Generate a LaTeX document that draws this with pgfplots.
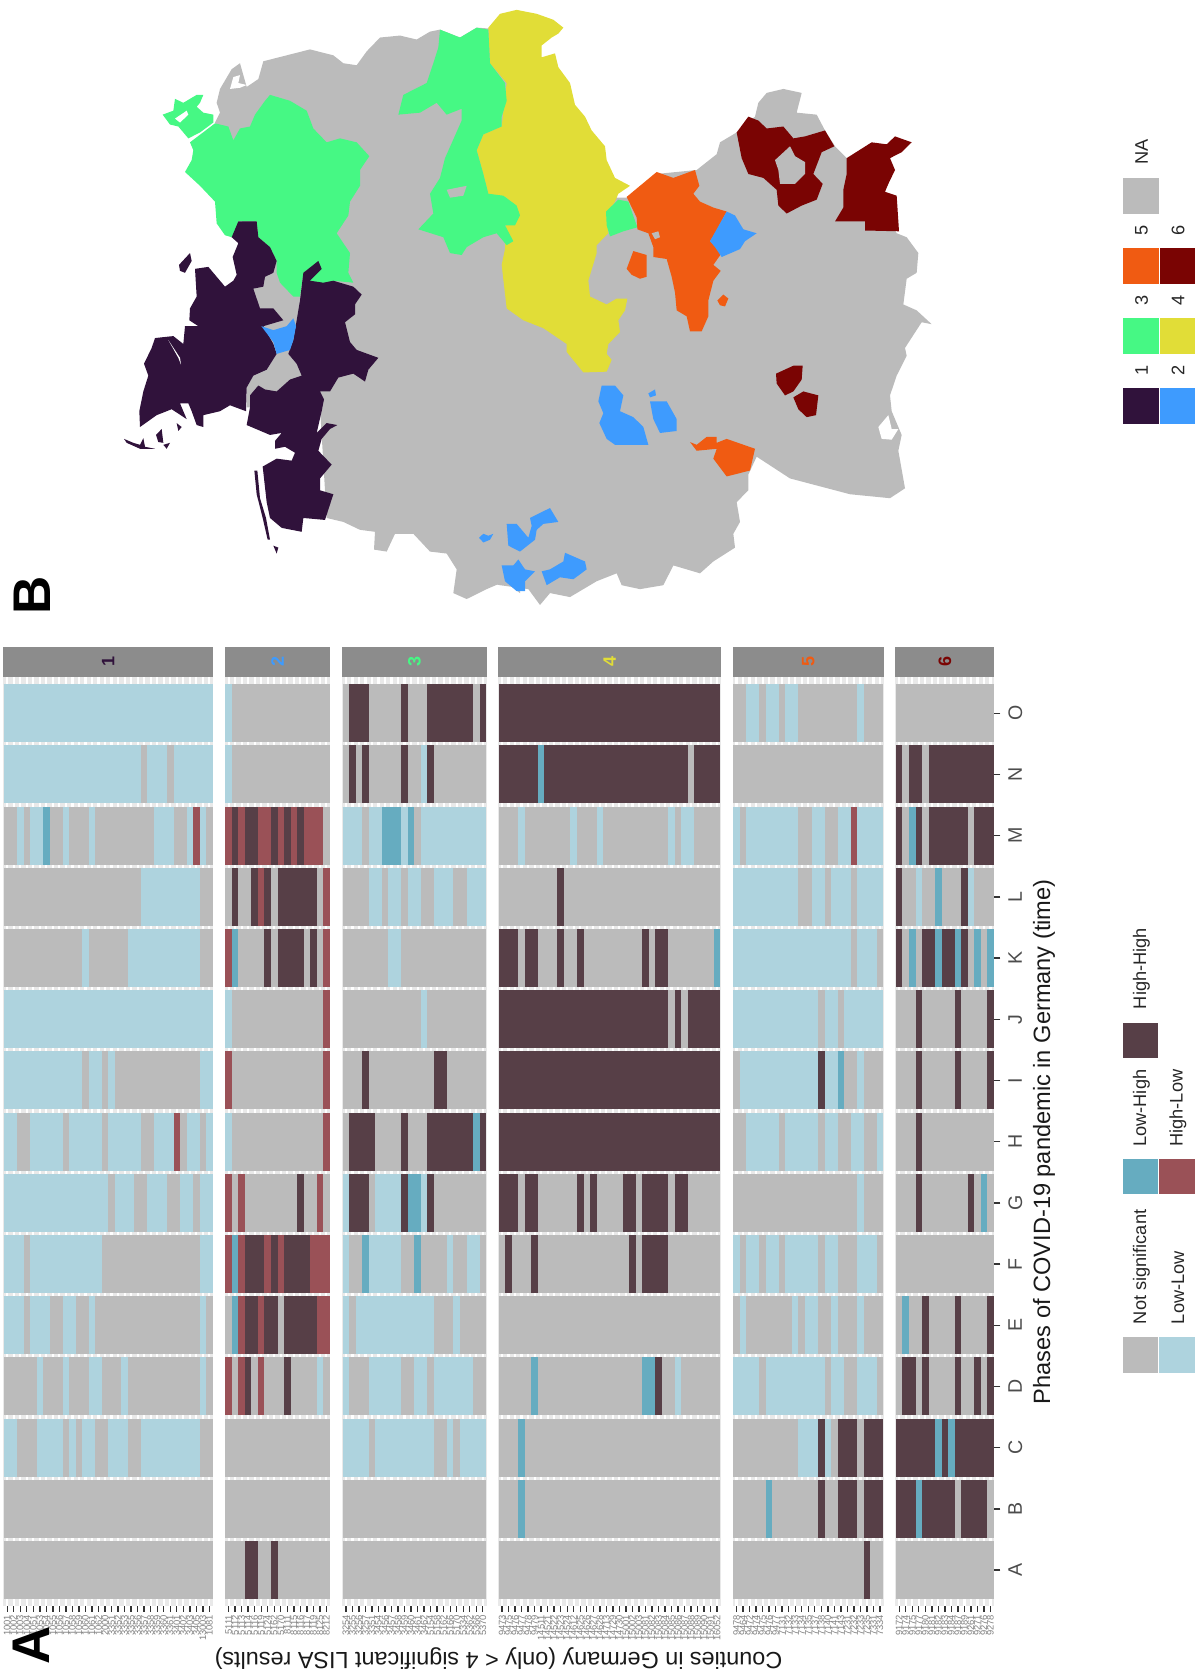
\documentclass[border=0pt]{standalone}
\usepackage{fontspec}
\setmainfont{Liberation Sans}
\usepackage{pgfplots}
\pgfplotsset{compat=1.18}
\definecolor{cNS}{HTML}{BBBBBB}
\definecolor{cLL}{HTML}{AED3DE}
\definecolor{cLH}{HTML}{66ACC0}
\definecolor{cHL}{HTML}{9A5157}
\definecolor{cHH}{HTML}{573F47}
\definecolor{cOne}{HTML}{30123B}
\definecolor{cTwo}{HTML}{3E9BFE}
\definecolor{cThree}{HTML}{46F884}
\definecolor{cFour}{HTML}{E1DD37}
\definecolor{cFive}{HTML}{F05B12}
\definecolor{cSix}{HTML}{7A0403}
\definecolor{cStrip}{HTML}{8C8C8C}
\definecolor{cBand}{HTML}{E9E9E9}
\definecolor{cTick}{HTML}{333333}
\definecolor{cTxt}{HTML}{808080}
\pgfplotsset{
  cellrow/.style={draw=none,mark=none,forget plot,
    error bars/x dir=plus,error bars/x explicit,error bars/error mark=none,
    error bars/error bar style={draw=#1,line width=29pt,solid}},
  panel/.style={anchor=south west,scale only axis,height=464.65pt,ymin=0.413,ymax=15.598,
    ytick=\empty,clip=false,axis line style={draw=none},
    axis background/.style={fill=cBand},
    xmajorgrids,grid style={white,line width=1.1pt},
    xtick pos=lower,tick align=outside,major tick length=3pt,
    tick style={draw=cTick,line width=0.7pt},
    x tick label style={rotate=90,anchor=east,font=\fontsize{4.7}{5}\selectfont,text=cTxt,inner sep=1.2pt}},
  /pgfplots/table/tab/.style={/pgfplots/table/row sep=\\,/pgfplots/table/x=s,/pgfplots/table/y=p,/pgfplots/table/x error=w},
  mapax/.style={anchor=south west,scale only axis,hide axis,clip=false,y dir=reverse,ymin=0,ymax=1568,height=310pt}
}
\newcommand\strip[2]{%
  \fill[cStrip] (rel axis cs:0,1) rectangle ([yshift=14.7pt]rel axis cs:1,1);
  \node[rotate=90,text=#2,font=\bfseries\fontsize{9}{9}\selectfont,inner sep=0pt] at ([yshift=7.35pt]rel axis cs:0.5,1) {#1};}
\newcommand\lkey[3]{\fill[#3] ({#1*0.5pt},{(1673-#2)*0.5pt}) rectangle ({(#1+35.6)*0.5pt},{(1673-#2-35.6)*0.5pt});}
\newcommand\ltxt[3]{\node[rotate=90,anchor=west,inner sep=0pt,font=\fontsize{9.1}{9.1}\selectfont,text=black!85] at ({#1*0.5pt},{(1673-#2)*0.5pt}) {#3};}
\begin{document}
\begin{tikzpicture}
\path[use as bounding box] (0,0) rectangle (597.5pt,836.5pt);

%% ---------- heat map panels ----------
\begin{axis}[panel,at={(1.65pt,33.5pt)},width=105pt,xmin=-0.1,xmax=32.1,
  xtick={0.5,1.5,...,31.5},
  xticklabels={1001,1002,1003,1004,1051,1053,1054,1055,1056,1057,1058,1059,1060,1061,1062,2000,3351,3352,3353,3355,3356,3357,3358,3359,3360,3361,3401,3402,3403,3405,13003,1081}]
\addplot[cellrow=cNS] table[tab] {p s w\\1 0 32\\2 0 32\\3 0 32\\4 0 32\\5 0 32\\6 0 32\\7 0 32\\8 0 32\\9 0 32\\10 0 32\\11 0 32\\12 0 32\\13 0 32\\14 0 32\\15 0 32\\};
\addplot[cellrow=cLL] table[tab] {p s w\\15 0 32\\14 0 21\\14 22 3\\14 26 6\\13 2 1\\13 4 2\\13 9 1\\13 13 1\\13 23 3\\13 28 1\\13 30 1\\12 21 9\\11 12 1\\11 19 11\\10 0 32\\9 0 12\\9 13 2\\9 16 1\\9 30 2\\8 0 2\\8 4 5\\8 10 5\\8 16 5\\8 23 3\\8 28 2\\8 31 1\\7 0 16\\7 17 3\\7 22 3\\7 27 2\\7 30 2\\6 0 3\\6 4 11\\6 30 2\\5 0 3\\5 4 3\\5 9 2\\5 13 1\\5 30 1\\4 5 1\\4 9 1\\4 13 2\\4 18 1\\4 30 1\\3 0 2\\3 5 4\\3 10 1\\3 12 2\\3 16 3\\3 21 9\\};
\addplot[cellrow=cLH] table[tab] {p s w\\13 6 1\\};
\addplot[cellrow=cHL] table[tab] {p s w\\13 29 1\\8 26 1\\};
\strip{1}{cOne}
\end{axis}

\begin{axis}[panel,at={(112.35pt,33.5pt)},width=52.8pt,xmin=-0.1,xmax=16.1,
  xtick={0.5,1.5,...,15.5},
  xticklabels={5111,5112,5113,5114,5116,5119,5124,5162,5170,8111,8115,8116,8117,8119,8125,8212}]
\addplot[cellrow=cNS] table[tab] {p s w\\1 0 16\\2 0 16\\3 0 16\\4 0 16\\5 0 16\\6 0 16\\7 0 16\\8 0 16\\9 0 16\\10 0 16\\11 0 16\\12 0 16\\13 0 16\\14 0 16\\15 0 16\\};
\addplot[cellrow=cLL] table[tab] {p s w\\15 0 1\\14 0 1\\10 0 1\\8 0 1\\4 14 1\\};
\addplot[cellrow=cLH] table[tab] {p s w\\11 1 1\\6 1 1\\5 1 1\\};
\addplot[cellrow=cHL] table[tab] {p s w\\13 0 1\\13 2 1\\13 5 2\\13 8 1\\13 10 1\\13 12 3\\12 5 1\\12 15 1\\11 0 1\\11 15 1\\10 15 1\\9 0 1\\9 15 1\\8 15 1\\7 0 1\\7 2 1\\7 14 1\\6 0 1\\6 2 1\\6 6 1\\6 8 1\\6 13 3\\5 2 1\\5 5 1\\5 14 2\\4 0 1\\4 2 1\\4 5 1\\};
\addplot[cellrow=cHH] table[tab] {p s w\\13 1 1\\13 3 2\\13 7 1\\13 9 1\\13 11 1\\12 1 1\\12 4 1\\12 6 1\\12 8 6\\11 6 1\\11 8 4\\11 13 1\\7 11 1\\6 3 3\\6 7 1\\6 9 4\\5 3 2\\5 6 2\\5 9 5\\4 3 1\\4 9 1\\1 3 2\\1 7 1\\};
\strip{2}{cTwo}
\end{axis}

\begin{axis}[panel,at={(171pt,33.5pt)},width=72.35pt,xmin=-0.1,xmax=22.1,
  xtick={0.5,1.5,...,21.5},
  xticklabels={3254,3255,3256,3257,3351,3454,3456,3457,3458,3459,3460,3461,3462,5154,5158,5162,5166,5170,5334,5362,5366,5370}]
\addplot[cellrow=cNS] table[tab] {p s w\\1 0 22\\2 0 22\\3 0 22\\4 0 22\\5 0 22\\6 0 22\\7 0 22\\8 0 22\\9 0 22\\10 0 22\\11 0 22\\12 0 22\\13 0 22\\14 0 22\\15 0 22\\};
\addplot[cellrow=cLL] table[tab] {p s w\\14 12 1\\13 0 3\\13 4 2\\13 9 1\\13 12 10\\12 4 2\\12 7 2\\12 10 2\\12 14 3\\12 19 3\\11 7 2\\10 12 1\\7 0 1\\7 5 4\\7 12 1\\6 0 1\\6 4 5\\6 16 1\\6 19 2\\5 0 1\\5 2 12\\5 17 1\\4 0 1\\4 4 5\\4 11 2\\4 14 6\\3 0 4\\3 5 9\\3 16 1\\3 18 4\\};
\addplot[cellrow=cLH] table[tab] {p s w\\13 6 3\\13 10 1\\8 20 1\\7 10 2\\6 3 1\\6 11 1\\};
\addplot[cellrow=cHH] table[tab] {p s w\\15 1 3\\15 9 1\\15 13 7\\15 21 1\\14 1 1\\14 3 1\\14 9 1\\14 13 1\\9 3 1\\9 14 2\\8 1 4\\8 9 1\\8 13 7\\8 21 1\\7 1 3\\7 9 1\\7 13 1\\};
\strip{3}{cThree}
\end{axis}

\begin{axis}[panel,at={(249.05pt,33.5pt)},width=111.5pt,xmin=-0.1,xmax=34.1,
  xtick={0.5,1.5,...,33.5},
  xticklabels={9473,9475,9476,9477,9478,9479,14511,14521,14522,14523,14524,14612,14625,14626,14627,14628,14713,14729,14730,15001,15002,15003,15081,15082,15083,15084,15085,15086,15087,15088,15089,15090,15091,16052}]
\addplot[cellrow=cNS] table[tab] {p s w\\1 0 34\\2 0 34\\3 0 34\\4 0 34\\5 0 34\\6 0 34\\7 0 34\\8 0 34\\9 0 34\\10 0 34\\11 0 34\\12 0 34\\13 0 34\\14 0 34\\15 0 34\\};
\addplot[cellrow=cLL] table[tab] {p s w\\13 3 1\\13 11 1\\13 15 1\\13 26 1\\13 28 2\\4 27 1\\};
\addplot[cellrow=cLH] table[tab] {p s w\\14 6 1\\11 33 1\\4 5 1\\4 22 2\\3 3 1\\2 3 1\\};
\addplot[cellrow=cHH] table[tab] {p s w\\15 0 34\\14 0 6\\14 7 22\\14 30 4\\12 9 1\\11 0 3\\11 4 2\\11 9 1\\11 12 1\\11 22 1\\11 24 2\\10 0 26\\10 27 1\\10 29 5\\9 0 34\\8 0 34\\7 0 3\\7 4 2\\7 12 1\\7 14 1\\7 19 2\\7 22 4\\7 27 2\\6 1 1\\6 5 1\\6 20 1\\6 22 4\\4 24 1\\};
\strip{4}{cFour}
\end{axis}

\begin{axis}[panel,at={(366.3pt,33.5pt)},width=75.65pt,xmin=-0.1,xmax=23.1,
  xtick={0.5,1.5,...,22.5},
  xticklabels={9478,9464,9472,9474,9475,9476,9477,7131,7132,7133,7134,7135,7137,7138,7140,7141,7143,7231,7232,7233,7235,7331,7334}]
\addplot[cellrow=cNS] table[tab] {p s w\\1 0 23\\2 0 23\\3 0 23\\4 0 23\\5 0 23\\6 0 23\\7 0 23\\8 0 23\\9 0 23\\10 0 23\\11 0 23\\12 0 23\\13 0 23\\14 0 23\\15 0 23\\};
\addplot[cellrow=cLL] table[tab] {p s w\\15 2 2\\15 5 2\\15 8 2\\15 19 1\\13 0 1\\13 2 8\\13 12 2\\13 16 2\\13 19 4\\12 0 10\\12 12 2\\12 15 3\\12 19 4\\11 0 18\\11 19 3\\10 0 13\\10 14 2\\10 17 6\\9 1 12\\9 14 2\\9 19 1\\8 2 5\\8 8 5\\8 14 2\\8 18 2\\8 22 1\\7 19 1\\6 0 1\\6 2 2\\6 5 2\\6 8 5\\6 14 2\\6 19 3\\5 1 1\\5 9 1\\5 11 2\\5 15 1\\5 19 1\\4 0 4\\4 5 9\\4 15 2\\4 19 3\\3 10 3\\3 14 1\\};
\addplot[cellrow=cLH] table[tab] {p s w\\9 16 1\\2 5 1\\};
\addplot[cellrow=cHL] table[tab] {p s w\\13 18 1\\};
\addplot[cellrow=cHH] table[tab] {p s w\\9 13 1\\3 13 1\\3 16 3\\3 20 3\\2 13 1\\2 16 3\\2 20 3\\1 20 1\\};
\strip{5}{cFive}
\end{axis}

\begin{axis}[panel,at={(447.65pt,33.5pt)},width=49.55pt,xmin=-0.1,xmax=15.1,
  xtick={0.5,1.5,...,14.5},
  xticklabels={9172,9174,9175,9177,9180,9181,9182,9183,9184,9187,9189,9261,9271,9276,9278},
  ytick={1,2,...,15},yticklabels={A,B,C,D,E,F,G,H,I,J,K,L,M,N,O},
  ytick pos=right,yticklabel pos=right,
  y tick label style={rotate=90,anchor=north,font=\fontsize{9.8}{9.8}\selectfont,text=black!70,inner sep=0pt,yshift=-3.8pt}]
\addplot[cellrow=cNS] table[tab] {p s w\\1 0 15\\2 0 15\\3 0 15\\4 0 15\\5 0 15\\6 0 15\\7 0 15\\8 0 15\\9 0 15\\10 0 15\\11 0 15\\12 0 15\\13 0 15\\14 0 15\\15 0 15\\};
\addplot[cellrow=cLL] table[tab] {p s w\\12 3 1\\12 11 1\\};
\addplot[cellrow=cLH] table[tab] {p s w\\13 2 1\\12 6 1\\11 2 1\\11 6 1\\11 9 1\\11 12 1\\11 14 1\\7 13 1\\5 1 1\\3 6 1\\3 8 1\\2 3 1\\};
\addplot[cellrow=cHH] table[tab] {p s w\\14 0 1\\14 2 2\\14 5 10\\13 0 1\\13 3 1\\13 5 6\\13 12 3\\12 0 1\\12 10 1\\11 0 1\\11 4 2\\11 7 2\\11 10 1\\10 3 1\\10 9 1\\10 14 1\\9 3 1\\9 9 1\\9 14 1\\8 3 1\\7 3 1\\7 11 1\\5 4 1\\5 9 1\\5 14 1\\4 1 2\\4 4 1\\4 9 1\\4 12 1\\4 14 1\\3 0 6\\3 7 1\\3 9 6\\2 0 3\\2 4 5\\2 10 4\\};
\strip{6}{cSix}
\end{axis}

%% ---------- map, west gray ----------
\begin{axis}[mapax,at={(50pt,526.5pt)},width=210pt,xmin=0,xmax=1260]
\addplot[fill=cNS,draw=none] coordinates {(1260,45)(1190,50)(1165,72)(1130,70)(1080,95)(1050,85)(1020,75)(990,80)(950,100)(900,90)(840,95)(800,130)(770,165)(730,160)(700,140)(630,125)(560,140)(490,155)(475,200)(440,220)(420,160)(395,175)(360,225)(350,260)(360,285)(345,310)(400,400)(450,700)(460,730)(440,980)(440,1030)(660,1030)(680,1310)(730,1320)(780,1340)(825,1345)(822,1390)(860,1395)(885,1350)(940,1350)(990,1395)(1040,1400)(1070,1440)(1060,1500)(1100,1515)(1160,1490)(1215,1470)(1260,1500)};
\end{axis}

%% ---------- map, east part ----------
\begin{axis}[mapax,at={(250pt,526.5pt)},width=225pt,xmin=0,xmax=1350]
\addplot[fill=cNS,draw=none] coordinates {(-50,400)(300,500)(380,500)(470,440)(590,430)(650,390)(660,360)(710,335)(765,295)(775,260)(800,235)(850,225)(905,235)(890,285)(950,290)(975,330)(1005,370)(1040,400)(1100,450)(1190,590)(1220,600)(1255,640)(1250,690)(1220,705)(1210,770)(1250,785)(1295,820)(1265,815)(1215,880)(1220,900)(1190,950)(1170,1000)(1175,1040)(1205,1100)(1195,1140)(1215,1235)(1170,1260)(1050,1250)(960,1230)(870,1210)(770,1155)(745,1200)(745,1240)(710,1270)(720,1320)(700,1350)(705,1385)(640,1420)(600,1450)(520,1430)(490,1480)(420,1490)(365,1480)(350,1450)(290,1470)(210,1510)(150,1500)(120,1530)(85,1490)(0,1480)(-50,1470)};
\addplot[fill=white,draw=none] coordinates {(1135,1080)(1165,1050)(1175,1085)(1195,1085)(1175,1112)(1145,1110)};
\addplot[fill=cFour,draw=none] coordinates {(-35,70)(0,35)(50,25)(110,35)(160,50)(190,70)(175,85)(155,95)(125,115)(125,145)(165,135)(175,170)(210,210)(225,265)(255,295)(275,330)(315,370)(320,405)(345,450)(390,470)(355,490)(345,510)(320,540)(325,590)(290,620)(290,640)(265,710)(270,750)(320,770)(350,755)(382,755)(375,785)(355,810)(360,840)(325,870)(320,895)(335,910)(320,940)(250,942)(200,890)(200,870)(130,830)(70,810)(20,780)(5,670)(15,630)(20,500)(-35,490)(-50,440)(-70,380)(-50,340)(5,320)(20,210)(-30,160)};
\addplot[fill=cFive,draw=none] coordinates {(380,498)(420,470)(470,435)(520,450)(585,430)(598,470)(580,490)(600,510)(640,525)(680,535)(645,590)(630,610)(665,640)(640,670)(662,685)(640,710)(625,760)(625,800)(605,838)(570,838)(560,800)(530,785)(525,740)(515,700)(500,655)(460,650)(460,625)(445,590)(412,580)(410,550)};
\addplot[fill=cNS,draw=none] coordinates {(455,590)(475,585)(480,600)(465,605)};
\addplot[fill=cFive,draw=none] coordinates {(380,680)(400,635)(440,645)(440,700)(420,705)(395,695)};
\addplot[fill=cFive,draw=none] coordinates {(652,760)(670,745)(685,755)(675,775)(660,772)};
\addplot[fill=cFive,draw=none] coordinates {(570,1118)(590,1125)(620,1105)(650,1105)(650,1120)(680,1110)(765,1135)(750,1190)(680,1205)(640,1160)(650,1135)(590,1140)};
\addplot[fill=cThree,draw=none] coordinates {(318,535)(355,505)(385,510)(412,575)(370,585)(330,598)(320,570)};
\addplot[fill=cTwo,draw=none] coordinates {(630,610)(680,535)(705,545)(730,580)(770,590)(735,610)(720,630)(665,650)(645,625)};
\addplot[fill=cSix,draw=none] coordinates {(710,335)(745,295)(775,305)(800,325)(850,320)(880,350)(915,345)(975,330)(1003,370)(965,385)(940,440)(968,465)(950,505)(905,520)(860,540)(835,520)(830,480)(790,450)(745,440)(725,400)};
\addplot[fill=cNS,draw=none] coordinates {(825,405)(870,370)(885,395)(915,410)(915,440)(885,465)(840,465)(835,430)};
\addplot[fill=cSix,draw=none] coordinates {(1005,560)(1030,525)(1030,480)(1040,440)(1040,400)(1115,360)(1160,365)(1185,345)(1235,360)(1205,385)(1170,400)(1185,430)(1165,465)(1155,485)(1190,495)(1197,585)(1095,583)(1095,560)};
\addplot[fill=cSix,draw=none] coordinates {(828,945)(880,925)(908,925)(905,960)(880,990)(855,1000)(830,970)};
\addplot[fill=cSix,draw=none] coordinates {(880,1005)(910,990)(955,1000)(948,1050)(920,1055)(895,1035)};
\addplot[fill=cTwo,draw=none] coordinates {(295,1015)(305,975)(345,975)(370,1000)(360,1040)(400,1055)(430,1080)(445,1125)(410,1125)(345,1125)(320,1110)(298,1070)(310,1045)};
\addplot[fill=cTwo,draw=none] coordinates {(445,995)(465,985)(468,1000)(450,1005)};
\addplot[fill=cTwo,draw=none] coordinates {(450,1015)(500,1015)(530,1060)(530,1090)(480,1095)(460,1060)};
\addplot[fill=cTwo,draw=none] coordinates {(20,1325)(50,1325)(85,1360)(95,1330)(90,1310)(125,1295)(150,1285)(175,1320)(130,1325)(110,1340)(105,1365)(60,1395)(25,1380)};
\addplot[fill=cTwo,draw=none] coordinates {(5,1430)(40,1430)(55,1415)(75,1440)(105,1445)(75,1470)(75,1495)(50,1495)(15,1470)};
\addplot[fill=cTwo,draw=none] coordinates {(125,1445)(150,1440)(190,1420)(195,1398)(255,1420)(260,1440)(220,1465)(180,1460)(140,1480)};
\addplot[fill=cTwo,draw=none] coordinates {(-63,1360)(-50,1350)(-35,1355)(-20,1350)(-30,1365)(-50,1372)};
\end{axis}

%% ---------- map, west colours ----------
\begin{axis}[mapax,at={(50pt,526.5pt)},width=210pt,xmin=0,xmax=1260]
\addplot[fill=white,draw=none] coordinates {(390,225)(400,195)(420,190)(415,210)(440,215)(420,222)};
\addplot[fill=cThree,draw=none] coordinates {(270,360)(345,312)(385,320)(400,355)(420,325)(450,320)(465,290)(495,255)(510,240)(570,255)(620,280)(640,325)(680,360)(720,350)(770,360)(808,395)(780,430)(780,470)(750,510)(745,545)(710,590)(750,640)(745,690)(760,715)(700,710)(670,720)(630,710)(655,665)(610,690)(600,750)(580,750)(540,715)(530,690)(530,660)(510,625)(475,600)(470,560)(415,560)(410,585)(395,600)(375,595)(350,565)(345,510)(300,470)(255,435)(275,405)(280,380)};
\addplot[fill=cThree,draw=none] coordinates {(188,290)(220,280)(225,250)(250,260)(290,240)(310,240)(300,260)(290,270)(310,285)(340,290)(340,310)(300,335)(265,350)(235,320)(210,315)};
\addplot[fill=white,draw=none] coordinates {(225,300)(260,280)(265,290)(240,310)};
\addplot[fill=cThree,draw=none] coordinates {(1020,75)(1050,85)(1080,95)(1130,70)(1165,75)(1170,160)(1215,210)(1220,255)(1205,295)(1205,320)(1150,340)(1130,380)(1150,440)(1165,490)(1210,495)(1250,520)(1260,545)(1245,570)(1215,570)(1240,610)(1220,620)(1190,590)(1150,600)(1100,625)(1085,645)(1050,640)(1030,600)(955,580)(1000,540)(990,490)(1020,450)(1035,400)(1085,305)(1085,275)(1040,290)(1010,260)(960,285)(895,290)(910,240)(980,210)(1000,160)(1015,120)};
\addplot[fill=cNS,draw=none] coordinates {(1040,480)(1100,470)(1090,495)(1050,500)};
\addplot[fill=cOne,draw=none] coordinates {(415,560)(470,560)(475,600)(510,625)(530,660)(520,690)(495,700)(490,725)(460,730)(480,780)(520,780)(550,810)(490,825)(520,870)(530,895)(500,935)(460,950)(440,980)(438,1040)(390,1025)(360,1040)(310,1050)(310,1080)(290,1075)(275,1040)(265,1020)(240,1020)(260,1060)(215,1035)(170,1050)(120,1080)(118,1040)(130,990)(145,950)(132,920)(155,880)(165,855)(220,850)(250,870)(255,825)(295,825)(268,810)(270,780)(290,750)(285,680)(325,675)(375,725)(400,710)(410,695)(398,650)(415,615)(395,600)};
\addplot[fill=white,draw=none] coordinates {(205,860)(240,905)(243,922)(235,905)};
\addplot[fill=cOne,draw=none] coordinates {(237,670)(270,640)(275,660)(255,690)(240,685)};
\addplot[fill=cOne,draw=none] coordinates {(72,1110)(100,1120)(120,1125)(130,1108)(135,1130)(165,1135)(120,1135)(80,1120)};
\addplot[fill=cOne,draw=none] coordinates {(168,1100)(185,1085)(190,1120)(175,1118)};
\addplot[fill=cOne,draw=none] coordinates {(230,1070)(245,1080)(235,1090)};
\addplot[fill=cOne,draw=none] coordinates {(190,1125)(210,1120)(200,1135)};
\addplot[fill=cOne,draw=none] coordinates {(610,690)(655,660)(665,680)(630,710)(670,715)(700,710)(760,725)(785,745)(765,770)(765,795)(735,815)(750,865)(770,885)(835,905)(805,935)(795,965)(760,945)(715,955)(690,990)(660,990)(672,1010)(665,1040)(650,1095)(680,1070)(712,1075)(690,1085)(665,1110)(655,1140)(695,1175)(660,1210)(660,1240)(700,1250)(675,1315)(610,1310)(605,1345)(545,1335)(510,1310)(500,1270)(488,1180)(530,1160)(575,1165)(585,1145)(555,1130)(525,1135)(525,1115)(545,1095)(510,1100)(440,1075)(450,1030)(450,1000)(475,975)(495,985)(530,990)(570,960)(605,950)(590,920)(565,895)(580,860)(590,810)(600,760)};
\addplot[fill=cOne,draw=none] coordinates {(463,1190)(472,1190)(480,1260)(498,1310)(510,1365)(503,1365)(488,1310)(470,1250)};
\addplot[fill=cOne,draw=none] coordinates {(520,1380)(535,1385)(530,1400)};
\addplot[fill=cTwo,draw=none] coordinates {(484,825)(520,835)(560,825)(580,805)(588,825)(580,860)(570,885)(530,895)(520,865)};
\end{axis}

%% ---------- legends and texts ----------
\lkey{1122.7}{1022.7}{cHH}
\lkey{1122.7}{1158.7}{cLH}
\lkey{1159.4}{1158.7}{cHL}
\lkey{1122.7}{1337}{cNS}
\lkey{1159.4}{1337}{cLL}
\ltxt{1141.5}{1009.5}{High-High}
\ltxt{1141.5}{1147}{Low-High}
\ltxt{1178}{1147}{High-Low}
\ltxt{1141.5}{1324.5}{Not significant}
\ltxt{1178}{1324.5}{Low-Low}
\lkey{1123.3}{178.3}{cNS}
\lkey{1123.3}{248.3}{cFive}
\lkey{1159.6}{248.3}{cSix}
\lkey{1123.3}{318.3}{cThree}
\lkey{1159.6}{318.3}{cFour}
\lkey{1123.3}{388.3}{cOne}
\lkey{1159.6}{388.3}{cTwo}
\ltxt{1141.5}{165}{NA}
\ltxt{1141.5}{236}{5}
\ltxt{1178}{236}{6}
\ltxt{1141.5}{306}{3}
\ltxt{1178}{306}{4}
\ltxt{1141.5}{376}{1}
\ltxt{1178}{376}{2}
\node[rotate=90,font=\fontsize{11.8}{11.8}\selectfont,text=black!90,inner sep=0pt] at ({1044*0.5pt},{(1673-1141.7)*0.5pt}) {Phases of COVID-19 pandemic in Germany (time)};
\node[rotate=180,font=\fontsize{11.7}{11.7}\selectfont,text=black!90,inner sep=0pt] at ({498.5*0.5pt},{(1673-1659)*0.5pt}) {Counties in Germany (only < 4 significant LISA results)};
\node[rotate=90,font=\bfseries\fontsize{26.5}{26.5}\selectfont,inner sep=0pt] at ({31*0.5pt},{(1673-1645)*0.5pt}) {A};
\node[rotate=90,font=\bfseries\fontsize{26.5}{26.5}\selectfont,inner sep=0pt] at ({32*0.5pt},{(1673-595)*0.5pt}) {B};
\end{tikzpicture}
\end{document}
